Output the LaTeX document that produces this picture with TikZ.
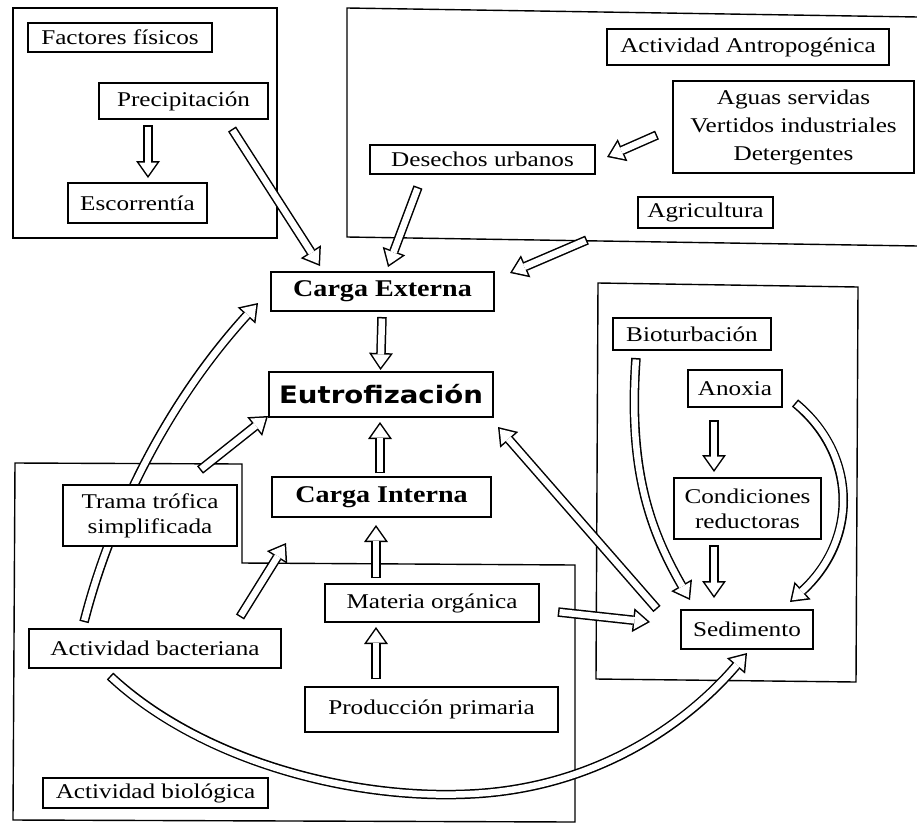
\documentclass[tikz,border=0pt]{standalone}
\usepackage{fontspec}
\usetikzlibrary{arrows.meta}
\newfontfamily\lblfont[FakeStretch=1.2]{Liberation Serif}
\newfontfamily\cargafont[FakeStretch=1.17]{Liberation Serif}
\newfontfamily\eutfont[FakeStretch=1.15]{DejaVu Sans}
\pgfdeclarelayer{bg}
\pgfsetlayers{bg,main}
\tikzset{
  box/.style={draw, line width=1.4pt, fill=white, inner sep=0pt, align=center,
    font={\lblfont\fontsize{21}{25}\selectfont}},
  cargabox/.style={box, font={\cargafont\bfseries\fontsize{24}{28}\selectfont}},
  eutbox/.style={box, font={\eutfont\bfseries\fontsize{24}{28}\selectfont}},
  outer/.style={draw, line width=1.4pt},
  harrow/.style={draw=white, line width=6.5pt, shorten <=1.5pt, shorten >=2.6pt,
    -{Triangle[length=12.9pt,width=18.2pt,line width=0pt]},
    preaction={draw=black, line width=9.5pt, shorten <=0pt, shorten >=0pt,
      -{Triangle[length=17pt,width=24pt,line width=0pt]}}}
}
\begin{document}
\begin{tikzpicture}[x=1pt,y=-1pt]
\useasboundingbox (0,0) rectangle (917,825);

% nodes
\node[box, minimum width=184pt, minimum height=29pt] (fis) at (120,37.5) {Factores físicos};
\node[box, minimum width=169pt, minimum height=36pt] (prec) at (183.5,101) {Precipitación};
\node[box, minimum width=139pt, minimum height=40pt] (esc) at (137.5,203) {Escorrentía};
\node[box, minimum width=282pt, minimum height=36pt] (antro) at (748,47) {Actividad Antropogénica};
\node[box, minimum width=241pt, minimum height=92pt, font={\lblfont\fontsize{21}{28}\selectfont}] (aguas) at (793.5,127) {Aguas servidas\\Vertidos industriales\\Detergentes};
\node[box, minimum width=225pt, minimum height=29pt] (des) at (482.5,159.5) {Desechos urbanos};
\node[box, minimum width=135pt, minimum height=31pt] (agr) at (705.5,212.5) {Agricultura};
\node[cargabox, minimum width=223pt, minimum height=39pt] (cext) at (382.5,291.5) {Carga Externa};
\node[eutbox, minimum width=224pt, minimum height=45pt] (eut) at (381,394.5) {Eutrofización};
\node[cargabox, minimum width=219pt, minimum height=40pt] (cint) at (381.5,497) {Carga Interna};
\node[box, minimum width=174pt, minimum height=61pt] (trama) at (150,515.5) {Trama trófica\\simplificada};
\node[box, minimum width=252pt, minimum height=39pt] (bact) at (155,648.5) {Actividad bacteriana};
\node[box, minimum width=225pt, minimum height=30pt] (biol) at (155.5,793) {Actividad biológica};
\node[box, minimum width=214pt, minimum height=38pt] (mat) at (432,603) {Materia orgánica};
\node[box, minimum width=253pt, minimum height=45pt] (prod) at (431.5,709.5) {Producción primaria};
\node[box, minimum width=158pt, minimum height=32pt] (biot) at (692,334) {Bioturbación};
\node[box, minimum width=94pt, minimum height=37pt] (anox) at (735,388.5) {Anoxia};
\node[box, minimum width=147pt, minimum height=61pt] (cond) at (747.5,508.5) {Condiciones\\reductoras};
\node[box, minimum width=132pt, minimum height=39pt] (sed) at (747,629.5) {Sedimento};

\begin{pgfonlayer}{bg}
\fill[white] (0,0) rectangle (917,825);
% outer frames
\draw[outer] (13,8) rectangle (277,238);
\draw[outer] (918,17) -- (347,8) -- (347,237) -- (918,246);
\draw[outer] (598,283) -- (858,287) -- (856,682) -- (596,679) -- cycle;
\draw[outer] (15,463) -- (242,464) -- (242,563) -- (575,565) -- (575,822) -- (13,820) -- cycle;

% arrows
\draw[harrow] ([shift={(-35.5,24)}]prec.center) -- ([shift={(10.5,-25)}]esc.center);
\draw[harrow] ([shift={(48.5,28)}]prec.center) -- ([shift={(-62.5,-25.5)}]cext.center);
\draw[harrow] ([shift={(-136.5,8)}]aguas.center) -- ([shift={(124.5,-2.5)}]des.center);
\draw[harrow] ([shift={(-64.5,27.5)}]des.center) -- ([shift={(5.5,-24.5)}]cext.center);
\draw[harrow] ([shift={(-118.5,27.5)}]agr.center) -- ([shift={(127.5,-18.5)}]cext.center);
\draw[harrow] ([shift={(-0.5,25.5)}]cext.center) -- ([shift={(-0.5,-24.5)}]eut.center);
\draw[harrow] ([shift={(-71,-26.5)}]bact.center) .. controls (110,520) and (165,405) .. ([shift={(-124.5,11.5)}]cext.center);
\draw[harrow] ([shift={(50,-45.5)}]trama.center) -- ([shift={(-113,21.5)}]eut.center);
\draw[harrow] ([shift={(-1.5,-24)}]cint.center) -- ([shift={(-1,27.5)}]eut.center);
\draw[harrow] ([shift={(85,-31.5)}]bact.center) -- ([shift={(-95.5,46)}]cint.center);
\draw[harrow] ([shift={(-56,-25)}]mat.center) -- ([shift={(-5.5,28)}]cint.center);
\draw[harrow] ([shift={(-55.5,-30.5)}]prod.center) -- ([shift={(-56,24)}]mat.center);
\draw[harrow] ([shift={(126,9)}]mat.center) -- ([shift={(-97,-7.5)}]sed.center);
\draw[harrow] ([shift={(-90,-20.5)}]sed.center) -- ([shift={(117,32.5)}]eut.center);
\draw[harrow] ([shift={(-56,24)}]biot.center) .. controls (628,470) and (650,530) .. ([shift={(-57,-29.5)}]sed.center);
\draw[harrow] ([shift={(-21,31.5)}]anox.center) -- ([shift={(-33.5,-36.5)}]cond.center);
\draw[harrow] ([shift={(-33.5,36.5)}]cond.center) -- ([shift={(-33,-31.5)}]sed.center);
\draw[harrow] ([shift={(60,14.5)}]anox.center) .. controls (858,455) and (858,540) .. ([shift={(43,-27.5)}]sed.center);
\draw[harrow] ([shift={(-45,27.5)}]bact.center) .. controls (200,760) and (350,800) .. (470,794) .. controls (600,788) and (690,720) .. ([shift={(0,23.5)}]sed.center);
\end{pgfonlayer}
\end{tikzpicture}
\end{document}
